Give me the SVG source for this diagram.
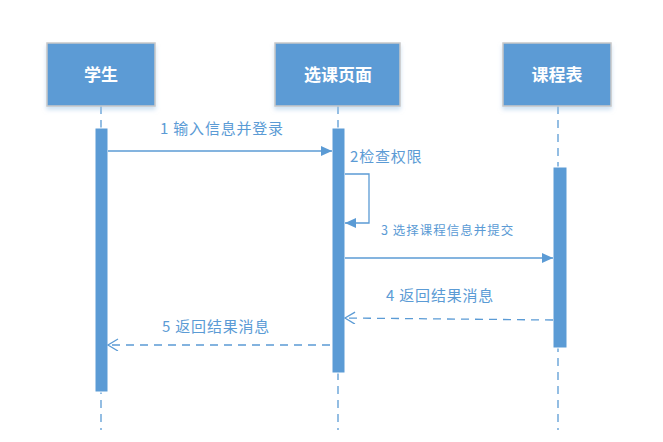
<svg xmlns="http://www.w3.org/2000/svg" width="663" height="442" viewBox="0 0 663 442">
<style>
.box{fill:#5B9BD5;stroke:#C8C8C8;stroke-width:1.5}
.nt{fill:#fff;font-family:"Noto Sans CJK SC",sans-serif;font-size:17px;font-weight:bold;text-anchor:middle}
.life{stroke:#5B9BD5;stroke-width:1.3;stroke-dasharray:8,6;fill:none}
.bar{fill:#5B9BD5;stroke:#fff;stroke-width:1}
.msg{stroke:#5B9BD5;stroke-width:1.3;fill:none}
.dash{stroke-dasharray:8,6}
.lb{fill:#5B9BD5;font-family:"Noto Sans CJK SC",sans-serif;font-size:15px;letter-spacing:0.8px}
.lbs{fill:#5B9BD5;font-family:"Noto Sans CJK SC",sans-serif;font-size:12.5px;letter-spacing:1px}
</style>
<defs>
<marker id="fill" markerWidth="12" markerHeight="10" refX="11" refY="5" orient="auto" markerUnits="userSpaceOnUse"><path d="M0,0 L11,5 L0,10 Z" fill="#5B9BD5"/></marker>
<marker id="open" markerWidth="13" markerHeight="13" refX="11" refY="6" orient="auto" markerUnits="userSpaceOnUse"><path d="M1,0 L11,6 L1,12" fill="none" stroke="#5B9BD5" stroke-width="1.3"/></marker>
<filter id="sh" x="-10%" y="-10%" width="120%" height="130%"><feDropShadow dx="0" dy="3" stdDeviation="2" flood-color="#9DC3E6" flood-opacity="0.5"/></filter>
</defs>
<g id="lifelines">
<line class="life" x1="101" y1="106" x2="101" y2="430"/>
<line class="life" x1="338" y1="106" x2="338" y2="430"/>
<line class="life" x1="558" y1="106" x2="558" y2="430"/>
</g>
<g id="student">
<rect class="box" x="47" y="43" width="108" height="63" filter="url(#sh)"/>
<text class="nt" x="101" y="80.5">学生</text>
<rect class="bar" x="95" y="128" width="13" height="264"/>
</g>
<g id="page">
<rect class="box" x="275" y="43" width="125" height="63" filter="url(#sh)"/>
<text class="nt" x="338" y="80.5">选课页面</text>
<rect class="bar" x="332" y="128" width="13" height="245"/>
</g>
<g id="table">
<rect class="box" x="503" y="43" width="108" height="63" filter="url(#sh)"/>
<text class="nt" x="557" y="80.5">课程表</text>
<rect class="bar" x="553" y="167" width="14" height="181"/>
</g>
<g id="connectors">
<line class="msg" x1="108" y1="151" x2="332" y2="151" marker-end="url(#fill)"/>
<text class="lb" x="160" y="134">1 输入信息并登录</text>
<polyline class="msg" points="345,174 369,174 369,223 345,223" marker-end="url(#fill)"/>
<text class="lb" x="350" y="162">2检查权限</text>
<line class="msg" x1="345" y1="258" x2="553" y2="258" marker-end="url(#fill)"/>
<text class="lbs" x="381" y="235">3 选择课程信息并提交</text>
<line class="msg dash" x1="553" y1="320" x2="345" y2="318" marker-end="url(#open)"/>
<text class="lb" x="386" y="301">4 返回结果消息</text>
<line class="msg dash" x1="330" y1="345" x2="108" y2="345" marker-end="url(#open)"/>
<text class="lb" x="162" y="332">5 返回结果消息</text>
</g>
</svg>
